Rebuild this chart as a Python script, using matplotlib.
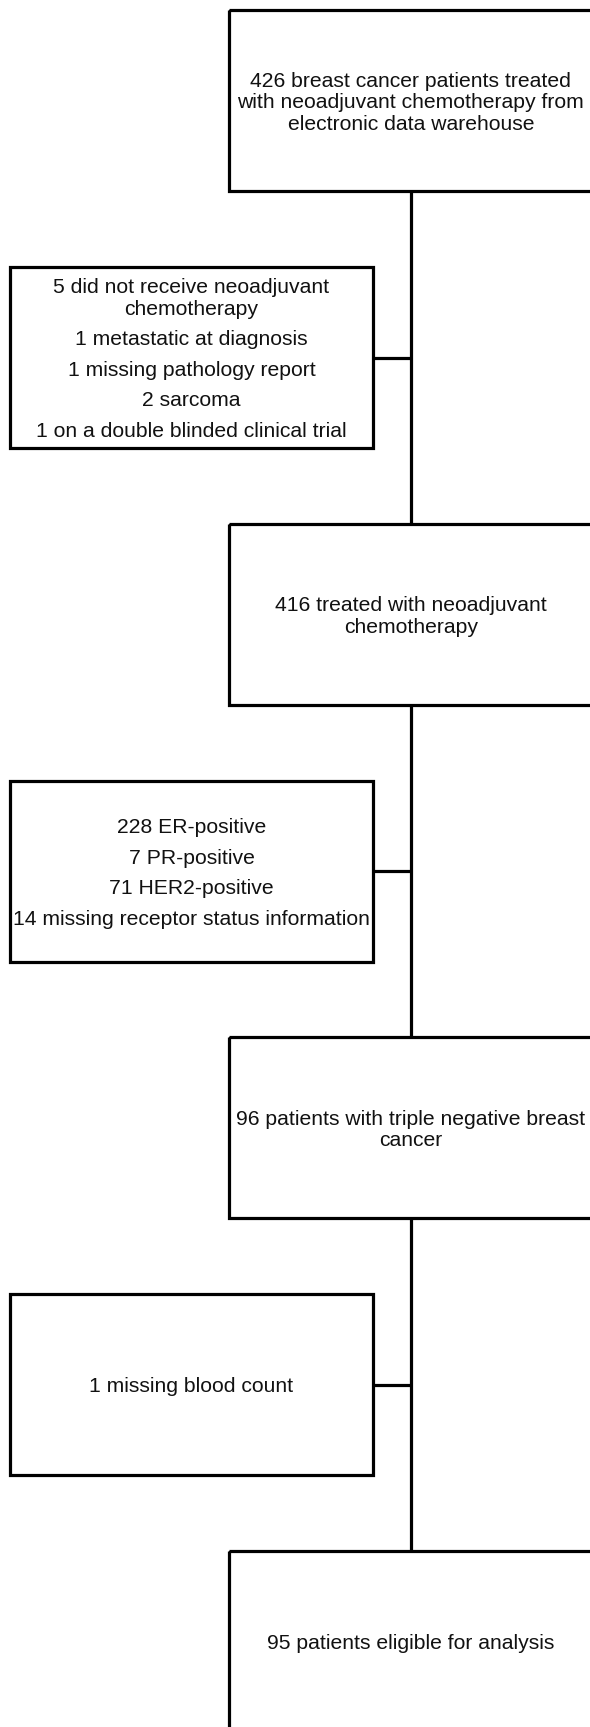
import matplotlib
matplotlib.use("Agg")
import matplotlib.pyplot as plt
from matplotlib.patches import Rectangle

# texte des cases (les retours a la ligne suivent la figure d'origine)
main_texts = [
    ["426 breast cancer patients treated\nwith neoadjuvant chemotherapy from\nelectronic data warehouse"],
    ["416 treated with neoadjuvant\nchemotherapy"],
    ["96 patients with triple negative breast\ncancer"],
    ["95 patients eligible for analysis"],
]
excluded_texts = [
    ["5 did not receive neoadjuvant\nchemotherapy",
     "1 metastatic at diagnosis",
     "1 missing pathology report",
     "2 sarcoma",
     "1 on a double blinded clinical trial"],
    ["228 ER-positive",
     "7 PR-positive",
     "71 HER2-positive",
     "14 missing receptor status information"],
    ["1 missing blood count"],
]

W, H = 590, 1727
box_w, box_h = 363, 181
main_x = 229.3
side_x = 10
top0 = 10
step = 513.7
side_off = 257
lw = 2.3
fs = 15.2
col = "black"
txt_col = "#111111"

fig = plt.figure(figsize=(W / 100, H / 100), dpi=100)
ax = fig.add_axes([0, 0, 1, 1])
ax.set_xlim(0, W)
ax.set_ylim(H, 0)
ax.axis("off")


def draw_lines(cx, cy, paragraphs):
    ys, lines = [], []
    y = 0
    for p in paragraphs:
        for j, ln in enumerate(p.split("\n")):
            if lines:
                y += 21.5 if j > 0 else 30.5
            ys.append(y)
            lines.append(ln)
    shift = cy - (ys[0] + ys[-1]) / 2
    for ln, yy in zip(lines, ys):
        ax.text(cx, yy + shift + 7.6, ln, ha="center", va="baseline",
                fontsize=fs, family="Liberation Sans", color=txt_col)


main_cx = main_x + box_w / 2
for i, t in enumerate(main_texts):
    top = top0 + i * step
    ax.add_patch(Rectangle((main_x, top), box_w, box_h, fill=False,
                           edgecolor=col, linewidth=lw))
    draw_lines(main_cx, top + box_h / 2, t)
    if i < len(main_texts) - 1:
        # ligne verticale vers la case suivante
        ax.plot([main_cx, main_cx], [top + box_h, top + step], color=col, lw=lw,
                solid_capstyle="butt")

for i, t in enumerate(excluded_texts):
    top = top0 + i * step + side_off
    cy = top + box_h / 2
    ax.add_patch(Rectangle((side_x, top), box_w, box_h, fill=False,
                           edgecolor=col, linewidth=lw))
    draw_lines(side_x + box_w / 2, cy, t)
    ax.plot([side_x + box_w, main_cx], [cy, cy], color=col, lw=lw,
            solid_capstyle="butt")

fig.savefig("out.png", dpi=100, facecolor="white")
